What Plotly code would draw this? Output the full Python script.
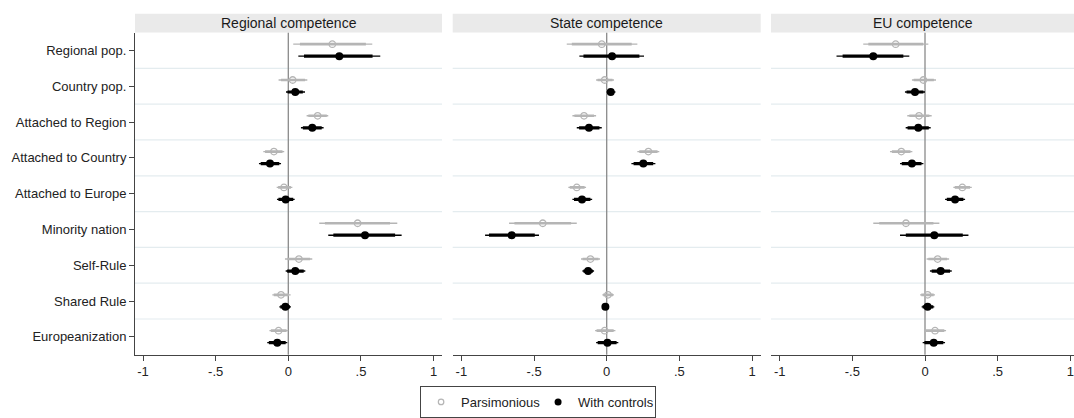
import plotly.graph_objects as go

# ---------------- data ----------------
variables = ["Regional pop.", "Country pop.", "Attached to Region", "Attached to Country",
             "Attached to Europe", "Minority nation", "Self-Rule", "Shared Rule", "Europeanization"]
panels = ["Regional competence", "State competence", "EU competence"]
x_ticks = [-1, -0.5, 0, 0.5, 1]
x_tick_labels = ["-1", "-.5", "0", ".5", "1"]

# Regional competence
reg_pars_pt   = [0.303, 0.030, 0.202, -0.099, -0.030, 0.477, 0.073, -0.050, -0.067]
reg_pars_lo95 = [0.034, -0.067, 0.126, -0.172, -0.080, 0.213, -0.023, -0.110, -0.130]
reg_pars_hi95 = [0.578, 0.131, 0.275, -0.028, 0.028, 0.750, 0.165, 0.016, 0.000]
reg_pars_lo90 = [0.080, -0.050, 0.138, -0.160, -0.070, 0.252, -0.007, -0.100, -0.120]
reg_pars_hi90 = [0.534, 0.115, 0.265, -0.040, 0.018, 0.700, 0.150, 0.005, -0.012]
reg_ctrl_pt   = [0.351, 0.048, 0.165, -0.126, -0.018, 0.528, 0.048, -0.020, -0.076]
reg_ctrl_lo95 = [0.069, -0.016, 0.087, -0.202, -0.078, 0.275, -0.018, -0.062, -0.145]
reg_ctrl_hi95 = [0.633, 0.115, 0.243, -0.050, 0.044, 0.780, 0.117, 0.018, -0.007]
reg_ctrl_lo90 = [0.108, -0.005, 0.100, -0.190, -0.068, 0.310, -0.008, -0.055, -0.134]
reg_ctrl_hi90 = [0.580, 0.100, 0.230, -0.062, 0.034, 0.735, 0.106, 0.012, -0.018]

# State competence
sta_pars_pt   = [-0.034, -0.014, -0.156, 0.287, -0.206, -0.440, -0.112, 0.009, -0.014]
sta_pars_lo95 = [-0.275, -0.073, -0.236, 0.211, -0.264, -0.672, -0.177, -0.030, -0.080]
sta_pars_hi95 = [0.211, 0.050, -0.073, 0.362, -0.142, -0.206, -0.046, 0.050, 0.060]
sta_pars_lo90 = [-0.240, -0.063, -0.222, 0.224, -0.254, -0.635, -0.166, -0.024, -0.070]
sta_pars_hi90 = [0.172, 0.040, -0.087, 0.350, -0.152, -0.245, -0.057, 0.043, 0.048]
sta_ctrl_pt   = [0.037, 0.028, -0.122, 0.252, -0.170, -0.654, -0.128, -0.009, 0.005]
sta_ctrl_lo95 = [-0.188, 0.000, -0.206, 0.170, -0.236, -0.837, -0.167, -0.022, -0.073]
sta_ctrl_hi95 = [0.257, 0.060, -0.034, 0.335, -0.100, -0.466, -0.087, 0.004, 0.080]
sta_ctrl_lo90 = [-0.160, 0.005, -0.190, 0.185, -0.225, -0.810, -0.160, -0.020, -0.062]
sta_ctrl_hi90 = [0.225, 0.050, -0.050, 0.320, -0.112, -0.495, -0.095, 0.002, 0.068]

# EU competence
eu_pars_pt   = [-0.202, -0.011, -0.041, -0.163, 0.257, -0.131, 0.087, 0.018, 0.069]
eu_pars_lo95 = [-0.425, -0.090, -0.122, -0.241, 0.195, -0.356, 0.011, -0.034, -0.007]
eu_pars_hi95 = [0.023, 0.076, 0.046, -0.087, 0.322, 0.099, 0.166, 0.069, 0.145]
eu_pars_lo90 = [-0.390, -0.078, -0.108, -0.228, 0.205, -0.315, 0.023, -0.026, 0.004]
eu_pars_hi90 = [-0.012, 0.061, 0.030, -0.100, 0.310, 0.058, 0.152, 0.060, 0.133]
eu_ctrl_pt   = [-0.356, -0.069, -0.046, -0.090, 0.207, 0.064, 0.108, 0.018, 0.060]
eu_ctrl_lo95 = [-0.609, -0.138, -0.133, -0.172, 0.138, -0.172, 0.034, -0.023, -0.016]
eu_ctrl_hi95 = [-0.108, 0.000, 0.039, -0.011, 0.276, 0.299, 0.184, 0.064, 0.138]
eu_ctrl_lo90 = [-0.567, -0.127, -0.120, -0.160, 0.150, -0.132, 0.046, -0.016, -0.004]
eu_ctrl_hi90 = [-0.149, -0.011, 0.026, -0.024, 0.264, 0.260, 0.172, 0.057, 0.126]

panel_data = [
    dict(pars=(reg_pars_pt, reg_pars_lo95, reg_pars_hi95, reg_pars_lo90, reg_pars_hi90),
         ctrl=(reg_ctrl_pt, reg_ctrl_lo95, reg_ctrl_hi95, reg_ctrl_lo90, reg_ctrl_hi90)),
    dict(pars=(sta_pars_pt, sta_pars_lo95, sta_pars_hi95, sta_pars_lo90, sta_pars_hi90),
         ctrl=(sta_ctrl_pt, sta_ctrl_lo95, sta_ctrl_hi95, sta_ctrl_lo90, sta_ctrl_hi90)),
    dict(pars=(eu_pars_pt, eu_pars_lo95, eu_pars_hi95, eu_pars_lo90, eu_pars_hi90),
         ctrl=(eu_ctrl_pt, eu_ctrl_lo95, eu_ctrl_hi95, eu_ctrl_lo90, eu_ctrl_hi90)),
]

# ---------------- layout geometry (pixels) ----------------
W, H = 1074, 418
px_x = [(135, 442), (452.7, 760.7), (771, 1074)]
px_scale = 145.3  # pixels per unit
zero_px = [288.3, 606.7, 925.0]
plot_top, plot_bot = 33, 360
head_top = 14

GRAY = "#b5b5b5"
BLACK = "#000000"
FONT = "Liberation Sans, Arial, sans-serif"
OFFSETS = {"pars": -0.175, "ctrl": 0.16}

fig = go.Figure()
shapes = []
annotations = []
ypos = list(range(len(variables)))


def seg_trace(lo, hi, offset, color, width, ax):
    xs, ys = [], []
    for i, (a, b) in enumerate(zip(lo, hi)):
        xs += [a, b, None]
        ys += [i + offset, i + offset, None]
    return go.Scatter(x=xs, y=ys, mode="lines", line=dict(color=color, width=width),
                      showlegend=False, hoverinfo="skip", xaxis=ax[0], yaxis=ax[1])


for p, (name, d) in enumerate(zip(panels, panel_data)):
    sfx = "" if p == 0 else str(p + 1)
    ax = ("x" + sfx, "y" + sfx)
    x0, x1 = px_x[p]
    rmin = (x0 - zero_px[p]) / px_scale
    rmax = (x1 - zero_px[p]) / px_scale

    for key, color, thin, thick in [("pars", GRAY, 1.4, 2.6), ("ctrl", BLACK, 1.4, 3.2)]:
        pt, lo95, hi95, lo90, hi90 = d[key]
        off = OFFSETS[key]
        fig.add_trace(seg_trace(lo95, hi95, off, color, thin, ax))
        fig.add_trace(seg_trace(lo90, hi90, off, color, thick, ax))
        if key == "pars":
            mk = dict(symbol="circle-open", size=6.5, color=GRAY, line=dict(width=1.3, color=GRAY))
        else:
            mk = dict(symbol="circle", size=8, color=BLACK)
        fig.add_trace(go.Scatter(x=pt, y=[i + off for i in ypos], mode="markers", marker=mk,
                                 showlegend=False, hoverinfo="skip", xaxis=ax[0], yaxis=ax[1]))

    xdom = [x0 / W, x1 / W]
    ydom = [(H - plot_bot) / H, (H - plot_top) / H]
    fig.layout["xaxis" + sfx] = dict(
        domain=xdom, range=[rmin, rmax], tickvals=x_ticks, ticktext=x_tick_labels,
        ticks="outside", ticklen=5, tickcolor="#444", showline=True, linecolor="#444",
        linewidth=1, showgrid=False, zeroline=False, anchor="y" + sfx,
        tickfont=dict(family=FONT, size=13, color="#222"), automargin=False, fixedrange=True)
    fig.layout["yaxis" + sfx] = dict(
        domain=ydom, range=[len(variables) - 0.5, -0.5], tickvals=ypos, ticktext=variables,
        ticks="outside" if p == 0 else "", ticklen=5, tickcolor="#444",
        showline=(p == 0), linecolor="#444", linewidth=1, showticklabels=(p == 0),
        showgrid=False, zeroline=False, anchor="x" + sfx,
        tickfont=dict(family=FONT, size=13, color="#222"), automargin=False, fixedrange=True)

    # row separators
    for k in range(len(variables) - 1):
        shapes.append(dict(type="line", xref=ax[0] + " domain", yref=ax[1], x0=0, x1=1,
                           y0=k + 0.5, y1=k + 0.5, line=dict(color="#e4ecef", width=1.2),
                           layer="below"))
    # zero reference line
    shapes.append(dict(type="line", xref=ax[0], yref=ax[1] + " domain", x0=0, x1=0, y0=0, y1=1,
                       line=dict(color="#8a8a8a", width=1.3), layer="below"))
    # header box
    shapes.append(dict(type="rect", xref="paper", yref="paper", x0=xdom[0], x1=xdom[1],
                       y0=(H - plot_top) / H, y1=(H - head_top) / H,
                       fillcolor="#eaeaea", line=dict(width=0)))
    annotations.append(dict(text=name, xref="paper", yref="paper",
                            x=(xdom[0] + xdom[1]) / 2, y=(H - (plot_top + head_top) / 2) / H,
                            xanchor="center", yanchor="middle", showarrow=False,
                            font=dict(family=FONT, size=14, color="#1a1a1a")))

# legend entries
fig.add_trace(go.Scatter(x=[None], y=[None], mode="markers", name="Parsimonious",
                         marker=dict(symbol="circle-open", size=5.5, color=GRAY,
                                     line=dict(width=1.2, color=GRAY))))
fig.add_trace(go.Scatter(x=[None], y=[None], mode="markers", name="With controls",
                         marker=dict(symbol="circle", size=7, color=BLACK)))

fig.update_layout(
    width=W, height=H, margin=dict(l=0, r=0, t=0, b=0),
    paper_bgcolor="white", plot_bgcolor="white",
    shapes=shapes, annotations=annotations,
    font=dict(family=FONT, size=13, color="#222"),
    legend=dict(orientation="h", x=0.501, xanchor="center", y=(H - 392) / H, yanchor="top",
                bordercolor="#444", borderwidth=1, bgcolor="white",
                font=dict(family=FONT, size=13, color="#222"),
                itemsizing="trace", tracegroupgap=0, itemwidth=30,
                entrywidth=72, entrywidthmode="pixels"),
)

fig.write_html("out.html")
